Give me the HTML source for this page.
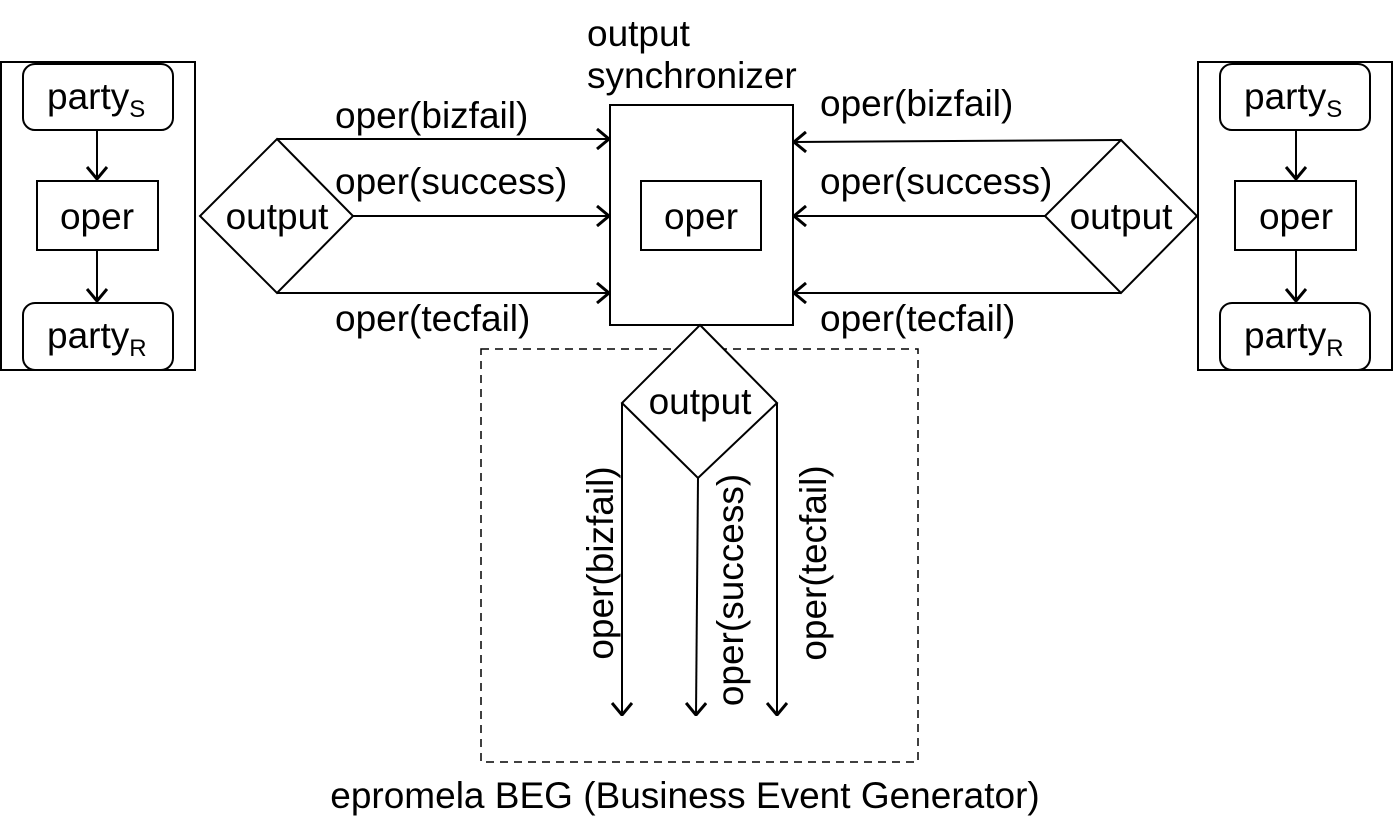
<!DOCTYPE html>
<html><head><meta charset="utf-8"><style>html,body{margin:0;padding:0;background:#fff}svg{display:block}</style></head>
<body>
<svg width="1393" height="825" viewBox="0 0 1393 825" xmlns="http://www.w3.org/2000/svg" style="font-family:'Liberation Sans',Arial,sans-serif;font-size:37px" fill="none" stroke="#000" stroke-width="2">
<defs>
<marker id="a" viewBox="0 0 14 22" refX="13" refY="11" markerWidth="14" markerHeight="22" markerUnits="userSpaceOnUse" orient="auto">
<path d="M1,1 L13,11 L1,21" fill="none" stroke="#000" stroke-width="3"/>
</marker>
</defs>
<rect x="1" y="62" width="194" height="308"/>
<rect x="23" y="64" width="150" height="66" rx="12"/>
<rect x="37" y="181" width="121" height="69"/>
<rect x="23" y="303" width="150" height="67" rx="12"/>
<line x1="97" y1="130" x2="97" y2="179" marker-end="url(#a)"/>
<line x1="97" y1="250" x2="97" y2="301" marker-end="url(#a)"/>
<rect x="1198" y="62" width="194" height="308"/>
<rect x="1220" y="64" width="150" height="66" rx="12"/>
<rect x="1235" y="181" width="121" height="69"/>
<rect x="1220" y="303" width="150" height="67" rx="12"/>
<line x1="1296" y1="130" x2="1296" y2="179" marker-end="url(#a)"/>
<line x1="1296" y1="250" x2="1296" y2="301" marker-end="url(#a)"/>
<polygon points="277,139 353,216 277,293 200,216"/>
<line x1="277" y1="139" x2="609" y2="139" marker-end="url(#a)"/>
<line x1="353" y1="216" x2="609" y2="216" marker-end="url(#a)"/>
<line x1="277" y1="293" x2="609" y2="293" marker-end="url(#a)"/>
<rect x="610" y="105" width="183" height="220"/>
<rect x="641" y="181" width="120" height="69"/>
<polygon points="1121,140 1197,216 1121,293 1045,216"/>
<line x1="1121" y1="140" x2="794" y2="142" marker-end="url(#a)"/>
<line x1="1045" y1="216" x2="794" y2="216" marker-end="url(#a)"/>
<line x1="1121" y1="293" x2="794" y2="293" marker-end="url(#a)"/>
<rect x="481" y="349" width="437" height="413" stroke-dasharray="8,6" stroke-width="1.5"/>
<polygon points="700,325 777,403 698,478 622,403" fill="#fff"/>
<line x1="622" y1="403" x2="622" y2="715" marker-end="url(#a)"/>
<line x1="698" y1="478" x2="696" y2="715" marker-end="url(#a)"/>
<line x1="777" y1="403" x2="777" y2="715" marker-end="url(#a)"/>
<g fill="#000" stroke="none">
<text x="47" y="109">party<tspan style="font-size:24px" dy="8">S</tspan></text>
<text x="97" y="229" text-anchor="middle">oper</text>
<text x="47" y="348">party<tspan style="font-size:24px" dy="8">R</tspan></text>
<text x="1244" y="109">party<tspan style="font-size:24px" dy="8">S</tspan></text>
<text x="1296" y="229" text-anchor="middle">oper</text>
<text x="1244" y="348">party<tspan style="font-size:24px" dy="8">R</tspan></text>
<text x="277" y="229" text-anchor="middle">output</text>
<text x="1121" y="229" text-anchor="middle">output</text>
<text x="700" y="414" text-anchor="middle">output</text>
<text x="701" y="229" text-anchor="middle">oper</text>
<text x="587" y="46">output</text>
<text x="587" y="88">synchronizer</text>
<text x="335" y="128">oper(bizfail)</text>
<text x="335" y="194">oper(success)</text>
<text x="335" y="331">oper(tecfail)</text>
<text x="820" y="116">oper(bizfail)</text>
<text x="820" y="194">oper(success)</text>
<text x="820" y="331">oper(tecfail)</text>
<text transform="translate(613,563) rotate(-90)" text-anchor="middle">oper(bizfail)</text>
<text transform="translate(743,590) rotate(-90)" text-anchor="middle">oper(success)</text>
<text transform="translate(826,563) rotate(-90)" text-anchor="middle">oper(tecfail)</text>
<text x="685" y="808" text-anchor="middle">epromela BEG (Business Event Generator)</text>
</g>
</svg>
</body></html>
